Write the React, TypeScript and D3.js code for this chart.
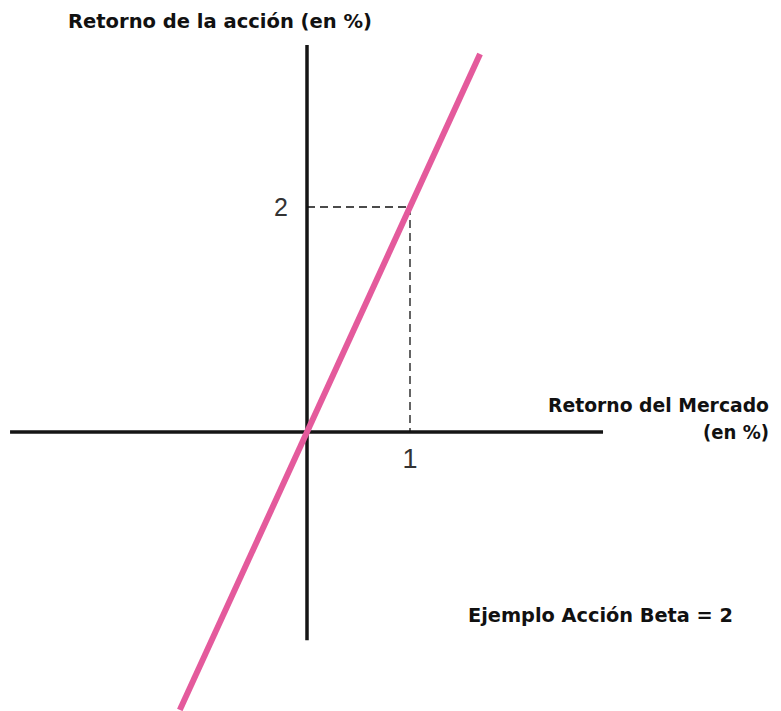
import React from "react";
import * as d3 from "d3";

const beta = 2;
const lineX = [-1.235, 1.68];
const xAxisExtent = [-2.883, 2.874];
const yAxisExtent = [-1.85, 3.44];
const refX = 1;
const refY = 2;
const xTicks = ["1"];
const yTicks = ["2"];
const yTitle = "Retorno de la acción (en %)";
const xTitle = ["Retorno del Mercado", "(en %)"];
const note = "Ejemplo Acción Beta = 2";

export default function App() {
  const W = 781, H = 711;
  const x = d3.scaleLinear().domain([0, 1]).range([307, 410]);
  const y = d3.scaleLinear().domain([0, 2]).range([432, 207]);
  const pts: [number, number][] = lineX.map((v) => [v, beta * v]);
  const line = d3.line<[number, number]>().x((d) => x(d[0])).y((d) => y(d[1]));
  const bold = "'DejaVu Sans', Verdana, sans-serif";
  const reg = "Arial, 'Liberation Sans', sans-serif";
  return (
    <svg width={W} height={H} style={{ position: "absolute", left: 0, top: 0, background: "#fff" }}>
      <line x1={x(xAxisExtent[0])} x2={x(xAxisExtent[1])} y1={y(0)} y2={y(0)} stroke="#151515" strokeWidth={3.5} />
      <line x1={x(0)} x2={x(0)} y1={y(yAxisExtent[1])} y2={y(yAxisExtent[0])} stroke="#151515" strokeWidth={3.5} />
      <line x1={x(0)} x2={x(refX)} y1={y(refY)} y2={y(refY)} stroke="#111" strokeWidth={1.3} strokeDasharray="8,5" />
      <line x1={x(refX)} x2={x(refX)} y1={y(refY)} y2={y(0)} stroke="#111" strokeWidth={1.3} strokeDasharray="8,5" />
      <path d={line(pts) || ""} stroke="#e45a9c" strokeWidth={6} fill="none" />
      <text x={x(refX)} y={468} textAnchor="middle" fontFamily={reg} fontSize={27} fill="#333">{xTicks[0]}</text>
      <text x={288} y={216} textAnchor="end" fontFamily={reg} fontSize={25} fill="#333">{yTicks[0]}</text>
      <text x={68} y={28} fontFamily={bold} fontSize={19} fontWeight="bold" fill="#111" textLength={304} lengthAdjust="spacingAndGlyphs">{yTitle}</text>
      <text x={548} y={412} fontFamily={bold} fontSize={19} fontWeight="bold" fill="#111" textLength={221} lengthAdjust="spacingAndGlyphs">{xTitle[0]}</text>
      <text x={703} y={439} fontFamily={bold} fontSize={19} fontWeight="bold" fill="#111" textLength={66} lengthAdjust="spacingAndGlyphs">{xTitle[1]}</text>
      <text x={468} y={622} fontFamily={bold} fontSize={19} fontWeight="bold" fill="#111" textLength={265} lengthAdjust="spacingAndGlyphs">{note}</text>
    </svg>
  );
}
